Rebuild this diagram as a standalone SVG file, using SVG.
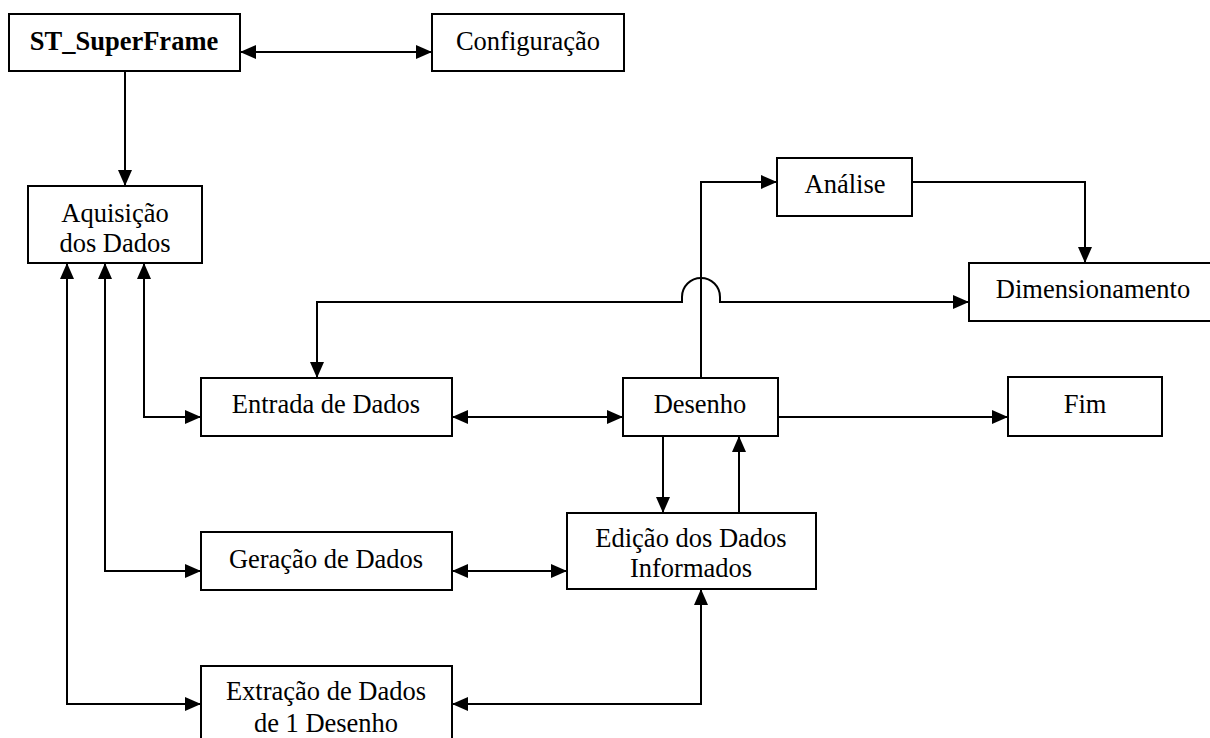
<svg xmlns="http://www.w3.org/2000/svg" width="1210" height="738" viewBox="0 0 1210 738">
<style>
.box{fill:#fff;stroke:#000;stroke-width:2}
.t{font-size:26.5px;fill:#000;text-anchor:middle}
.b{font-weight:bold}
.c{fill:none;stroke:#000;stroke-width:2}
.a{marker-end:url(#ah)}
.aa{marker-start:url(#ah);marker-end:url(#ah)}
</style>
<defs>
<marker id="ah" markerUnits="userSpaceOnUse" markerWidth="16" markerHeight="14" refX="16" refY="7" orient="auto-start-reverse" viewBox="0 0 16 14">
<path d="M0,0 L16,7 L0,14 z" fill="#000"/>
</marker>
</defs>
<rect width="1210" height="738" fill="#fff"/>
<g id="connectors">
<path class="c aa" d="M240,52 H432"/>
<path class="c a" d="M125,71 V186"/>
<path class="c aa" d="M144,263 V417 H201"/>
<path class="c aa" d="M105,263 V571 H201"/>
<path class="c aa" d="M67,263 V704 H201"/>
<path class="c aa" d="M452,417 H623"/>
<path class="c aa" d="M452,571 H567"/>
<path class="c aa" d="M452,704 H701 V589"/>
<path class="c a" d="M778,417 H1008"/>
<path class="c a" d="M663,436 V513"/>
<path class="c a" d="M739,513 V436"/>
<path class="c a" d="M701,378 V182 H777"/>
<path class="c a" d="M912,182 H1085 V263"/>
<path class="c aa" d="M317,378 V302 H682 V297 A19,19 0 0 1 720,297 V302 H969"/>
</g>
<g font-family="'Liberation Serif', 'Times New Roman', 'DejaVu Serif', serif">
<g id="st"><rect class="box" x="9" y="14" width="231" height="57"/><text class="t b" x="124" y="50">ST_SuperFrame</text></g>
<g id="config"><rect class="box" x="432" y="14" width="192" height="57"/><text class="t" x="528" y="50">Configuração</text></g>
<g id="aquisicao"><rect class="box" x="28" y="186" width="174" height="77"/><text class="t" x="115" y="222">Aquisição</text><text class="t" x="115" y="252">dos Dados</text></g>
<g id="analise"><rect class="box" x="777" y="158" width="135" height="58"/><text class="t" x="845" y="193">Análise</text></g>
<g id="dimensionamento"><rect class="box" x="969" y="263" width="250" height="58"/><text class="t" x="1093" y="298">Dimensionamento</text></g>
<g id="entrada"><rect class="box" x="201" y="378" width="251" height="58"/><text class="t" x="326" y="413">Entrada de Dados</text></g>
<g id="desenho"><rect class="box" x="623" y="378" width="155" height="58"/><text class="t" x="700" y="413">Desenho</text></g>
<g id="fim"><rect class="box" x="1008" y="377" width="154" height="59"/><text class="t" x="1085" y="413">Fim</text></g>
<g id="geracao"><rect class="box" x="201" y="532" width="251" height="58"/><text class="t" x="326" y="568">Geração de Dados</text></g>
<g id="edicao"><rect class="box" x="567" y="513" width="249" height="76"/><text class="t" x="691" y="547">Edição dos Dados</text><text class="t" x="691" y="577">Informados</text></g>
<g id="extracao"><rect class="box" x="201" y="666" width="251" height="80"/><text class="t" x="326" y="700">Extração de Dados</text><text class="t" x="326" y="732">de 1 Desenho</text></g>
</g>
</svg>
